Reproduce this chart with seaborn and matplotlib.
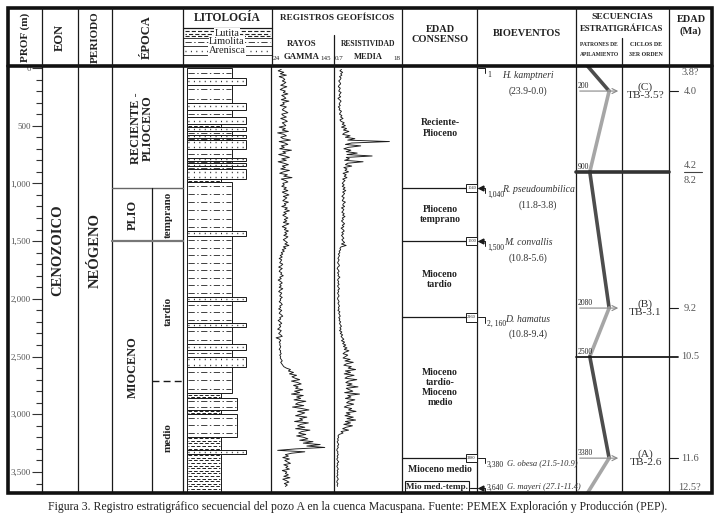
import numpy as np
import pandas as pd
import matplotlib
matplotlib.use("Agg")
import matplotlib.pyplot as plt
import seaborn as sns

# ------------------------------------------------------------------ data
depth_ticks = [0, 500, 1000, 1500, 2000, 2500, 3000, 3500]
depth_tick_labels = ['0', '500', '1,000', '1,500', '2,000', '2,500', '3,000', '3,500']

# lithology beds (m): top, base, lithology code
bed_top = [0, 85, 145, 306, 361, 428, 485, 514, 543, 578, 606, 624, 702, 780, 803, 826, 849, 878, 962, 990,
           1409, 1458, 1981, 2019, 2212, 2246, 2391, 2443, 2501, 2593, 2818, 2862, 2963, 3000, 3194, 3309, 3344]
bed_base = [85, 145, 306, 361, 428, 485, 514, 543, 578, 606, 624, 702, 780, 803, 826, 849, 878, 962, 990, 1409,
            1458, 1981, 2019, 2212, 2246, 2391, 2443, 2501, 2593, 2818, 2862, 2963, 3000, 3194, 3309, 3344, 3682]
bed_lith = ['Li', 'Ar', 'Li', 'Ar', 'Li', 'Ar', 'Lu', 'Ar', 'Li', 'Ar', 'Li', 'Ar', 'Li', 'Ar', 'Li', 'Ar', 'Li', 'Ar', 'Lu', 'Li',
            'Ar', 'Li', 'Ar', 'Li', 'Ar', 'Li', 'Ar', 'Li', 'Ar', 'Li', 'Lu', 'Lm', 'Lu', 'Lm', 'Lu', 'Ar', 'Lu']

# well logs sampled every 12.5 m starting at 12.5 m
log_step = 12.5
gamma_ray = [42, 36, 47, 40, 52, 38, 46, 49, 44, 51, 47, 41, 53, 45, 40, 50, 46, 55, 43, 48,
             51, 42, 57, 45, 48, 40, 52, 47, 44, 50, 55, 43, 46, 52, 41, 49, 54, 44, 48, 51,
             38, 50, 44, 56, 35, 47, 52, 41, 46, 60, 38, 49, 55, 42, 48, 39, 62, 45, 51, 37,
             49, 58, 43, 52, 36, 47, 56, 44, 50, 41, 58, 46, 39, 54, 47, 63, 42, 50, 55, 45,
             48, 43, 52, 47, 55, 44, 50, 57, 46, 53, 49, 45, 56, 48, 51, 43, 54, 49, 58, 47,
             52, 45, 50, 55, 48, 53, 46, 57, 50, 44, 52, 48, 56, 49, 53, 47, 55, 51, 46, 50,
             54, 49, 57, 46, 51, 44, 48, 42, 45, 40, 44, 38, 43, 41, 39, 45, 42, 37, 44, 40,
             38, 43, 41, 46, 39, 42, 36, 41, 44, 39, 42, 38, 45, 40, 37, 43, 41, 39, 44, 40,
             41, 38, 42, 44, 39, 41, 37, 43, 40, 38, 42, 45, 39, 41, 36, 40, 43, 38, 41, 39,
             35, 42, 40, 37, 41, 44, 32, 39, 41, 38, 40, 39, 41, 40, 38, 41, 40, 42, 39, 41,
             40, 42, 44, 41, 43, 45, 47, 52, 60, 56, 66, 58, 72, 63, 69, 78, 62, 74, 81, 66,
             75, 70, 84, 68, 78, 62, 85, 72, 80, 67, 90, 75, 70, 86, 64, 82, 96, 74, 88, 80,
             70, 92, 78, 84, 68, 95, 80, 74, 88, 70, 98, 82, 76, 90, 72, 86, 94, 78, 104, 85,
             118, 92, 127, 70, 35, 88, 62, 50, 56, 45, 58, 49, 54, 60, 47, 55, 51, 58, 44, 53,
             50, 56, 47, 59, 45, 52, 57, 48, 54, 50]
resistivity = [2.6, 2.2, 2.9, 2.4, 2.7, 2.1, 2.5, 2.3, 1.9, 2.2, 2.4, 2.0, 1.8, 2.3, 2.1, 1.9, 2.5, 2.2, 2.0, 2.4,
               1.7, 2.1, 2.5, 2.2, 2.0, 2.3, 1.8, 2.2, 2.0, 2.6, 2.3, 2.1, 2.7, 2.4, 3.0, 2.2, 2.5, 3.3, 2.8, 3.6,
               2.6, 3.9, 3.1, 4.5, 3.4, 2.9, 4.8, 3.6, 6.0, 4.2, 14.8, 5.2, 3.6, 7.5, 4.4, 3.2, 5.0, 3.8, 6.6, 4.0,
               10.4, 3.8, 4.6, 3.4, 8.1, 4.2, 3.6, 5.2, 3.2, 4.0, 3.5, 4.4, 3.0, 3.8, 3.3, 4.0, 2.9, 3.5, 3.1, 2.8,
               3.3, 2.8, 3.5, 3.0, 3.7, 2.9, 3.4, 3.1, 2.7, 3.3, 3.0, 2.8, 3.6, 3.1, 2.9, 3.4, 2.6, 3.2, 3.0, 2.7,
               3.3, 2.9, 3.5, 2.8, 3.1, 2.6, 3.0, 3.4, 2.8, 3.2, 2.5, 3.0, 3.3, 2.7, 3.1, 2.6, 2.9, 3.2, 2.7, 3.0,
               3.4, 2.6, 3.8, 2.5, 2.2, 2.4, 2.0, 2.2, 1.8, 2.1, 1.9, 1.7, 2.0, 1.8, 1.6, 1.9, 2.1, 1.7, 1.5, 1.8,
               2.0, 1.6, 1.9, 1.7, 2.2, 1.8, 1.6, 1.9, 1.7, 2.0, 1.6, 1.8, 2.1, 1.7, 1.9, 1.6, 1.8, 2.0, 1.7, 1.6,
               1.8, 2.0, 1.7, 1.9, 2.1, 1.8, 2.0, 1.7, 2.2, 1.9, 2.1, 2.3, 1.9, 2.2, 2.0, 2.4, 2.1, 2.3, 2.6, 2.2,
               2.5, 2.1, 2.7, 2.3, 2.9, 2.5, 2.8, 3.2, 2.6, 3.4, 2.9, 3.7, 3.1, 4.0, 3.3, 4.5, 3.5, 3.0, 4.2, 3.6,
               3.0, 4.8, 3.5, 5.6, 3.9, 3.2, 5.1, 4.3, 6.2, 3.6, 4.9, 3.3, 5.8, 4.1, 3.5, 6.5, 4.4, 3.7, 5.3, 4.0,
               6.8, 3.8, 4.6, 5.5, 3.4, 7.2, 4.2, 5.0, 3.6, 6.0, 4.5, 3.9, 5.7, 4.1, 3.3, 5.2, 4.4, 6.3, 3.8, 4.8,
               3.5, 5.6, 4.0, 6.2, 3.6, 4.9, 3.2, 5.4, 3.8, 2.9, 4.4, 2.5, 3.0, 2.0, 1.7, 1.9, 1.6, 1.8, 1.5, 1.7,
               1.9, 1.6, 1.8, 1.5, 1.4, 1.7, 1.6, 1.8, 1.5, 1.7, 1.4, 1.6, 1.9, 1.5, 1.7, 1.4, 1.6, 1.8, 1.5, 1.7,
               1.5, 1.7, 1.4, 1.6, 1.8, 1.5, 1.4, 1.7, 1.5, 1.6]

epoch_names = ['RECIENTE -\nPLIOCENO', 'PLIO', 'MIOCENO']
epoch_top = [0, 1040, 1500]
epoch_base = [1040, 1500, 3682]
subepoch_names = ['temprano', 'tardío', 'medio']
subepoch_top = [1040, 1500, 2715]
subepoch_base = [1500, 2715, 3682]

consenso_names = ['Reciente-\nPlioceno', 'Plioceno\ntemprano', 'Mioceno\ntardío',
                  'Mioceno\ntardío-\nMioceno\nmedio', 'Mioceno medio', 'Mio med.-temp.']
consenso_top = [0, 1040, 1500, 2160, 3380, 3584]
consenso_base = [1040, 1500, 2160, 3380, 3584, 3682]

bio_depth = [1, 1040, 1500, 2160, 3380, 3640]
bio_label = ['1', '1,040', '1,500', '2, 160', '3,380', '3,640']
bio_species = ['H. kamptneri', 'R. pseudoumbilica', 'M. convallis', 'D. hamatus', 'G. obesa', 'G. mayeri']
bio_range = ['(23.9-0.0)', '(11.8-3.8)', '(10.8-5.6)', '(10.8-9.4)', '(21.5-10.9)', '(27.1-11.4)']

apil_depth = [-17, 200, 900, 2080, 2500, 3380, 3682]
apil_index = [0.25, 0.72, 0.30, 0.72, 0.30, 0.72, 0.25]
mfs_depth = [200, 2080, 3380]
sb_depth = [900, 2500]
seq_names = ['(C)\nTB-3.5?', '(B)\nTB-3.1', '(A)\nTB-2.6']

age_depth = [43, 200, 849, 979, 2080, 2500, 3380, 3638]
age_label = ['3.8?', '4.0', '4.2', '8.2', '9.2', '10.5', '11.6', '12.5?']

caption = ('Figura 3. Registro estratigráfico secuencial del pozo A en la cuenca Macuspana. '
           'Fuente: PEMEX Exploración y Producción (PEP).')

# ------------------------------------------------------------------ style
sns.set_theme(style='white')
plt.rcParams['font.family'] = ['Liberation Serif', 'DejaVu Serif']
plt.rcParams['lines.scale_dashes'] = False

W, H = 716, 518
Y_TOP, Y_BOT = 66, 493
D_TOP, D_BOT = -17, 3682
M_PER_PX = (D_BOT - D_TOP) / (Y_BOT - Y_TOP)
TXT = '#222222'


def rect(x0, y0, x1, y1):
    return [x0 / W, 1 - y1 / H, (x1 - x0) / W, (y1 - y0) / H]


fig = plt.figure(figsize=(W / 100, H / 100), dpi=100)
fig.patch.set_facecolor('white')

# body axes: x in pixel columns, y in depth
ax = fig.add_axes(rect(42, Y_TOP, 712, Y_BOT))
ax.set_xlim(42, 712)
ax.set_ylim(D_BOT, D_TOP)
ax.set_facecolor('none')
for s in ['top', 'right', 'bottom']:
    ax.spines[s].set_visible(False)
ax.spines['left'].set_linewidth(0.9)
ax.spines['left'].set_color('k')
ax.set_xticks([])
ax.set_yticks(depth_ticks, depth_tick_labels)
ax.set_yticks(np.arange(0, 3700, 100), minor=True)
ax.tick_params(axis='y', which='both', left=True, direction='out', color='#333', width=0.8, pad=1)
ax.tick_params(axis='y', which='major', length=7, labelsize=6.5, labelcolor='#555')
ax.tick_params(axis='y', which='minor', length=4)

# column separators in body
for x in [78, 112, 183, 271, 334, 402, 477, 576, 622, 669]:
    ax.plot([x, x], [D_TOP, D_BOT], color='k', lw=0.9)

# eon / period
ax.text(58, 1580, 'CENOZOICO', rotation=90, ha='center', va='center', fontsize=10.5, fontweight='bold', color=TXT)
ax.text(95, 1585, 'NEÓGENO', rotation=90, ha='center', va='center', fontsize=10.5, fontweight='bold', color=TXT)

# epochs
for name, t, b in zip(epoch_names, epoch_top, epoch_base):
    xc = 142 if t == 0 else 133
    ax.text(xc, (t + b) / 2, name, rotation=90, ha='center', va='center', fontsize=8.8,
            fontweight='bold', color=TXT, linespacing=1.05)
for name, t, b in zip(subepoch_names, subepoch_top, subepoch_base):
    ax.text(168, (t + b) / 2, name, rotation=90, ha='center', va='center', fontsize=8,
            fontweight='bold', color=TXT)
ax.plot([112, 183], [epoch_top[1]] * 2, color='#666', lw=1)
ax.plot([152, 152], [epoch_top[1], D_BOT], color='k', lw=0.9)
ax.plot([112, 183], [epoch_top[2]] * 2, color='#777', lw=1.6)
ax.plot([152, 183], [subepoch_top[2]] * 2, color='k', lw=1, ls=(0, (5, 3)))

# lithology column
lith_width = {'Lu': 34.5, 'Li': 45.5, 'Lm': 50.5, 'Ar': 59.0}
LX = 186.7
tops = np.array(bed_top, float)
bases = np.array(bed_base, float)
widths = np.array([lith_width[c] for c in bed_lith])
ax.barh(y=(tops + bases) / 2, width=widths, height=bases - tops, left=LX,
        color='white', edgecolor='k', linewidth=0.7, zorder=2)
for t, b, c, w in zip(tops, bases, bed_lith, widths):
    th = b - t
    if c in ('Li', 'Lm'):
        sp, ls, lw = 7.5, (0, (4.5, 1.8, 1, 1.8)), 0.6
    elif c == 'Ar':
        sp, ls, lw = 5.5, (0, (0.7, 3.2)), 1.0
    else:
        sp, ls, lw = 2.6, (0, (2.6, 1.4)), 0.7
    n = max(1, int(round(th / (sp * M_PER_PX))))
    ys = t + (np.arange(n) + 0.5) * th / n
    for i, yy in enumerate(ys):
        off = ls if c != 'Lu' or i % 2 == 0 else (2.0, ls[1])
        ax.plot([LX + 1.5, LX + w - 1.5], [yy, yy], color='#222', lw=lw, ls=off, zorder=3)

# well logs
depths = log_step * (1 + np.arange(len(gamma_ray)))
df_log = pd.DataFrame({'depth': depths, 'gr': gamma_ray, 'res': resistivity})
ax_gr = fig.add_axes(rect(272, Y_TOP, 334, Y_BOT))
sns.lineplot(data=df_log, x='gr', y='depth', ax=ax_gr, sort=False, estimator=None, orient='y',
             color='#1a1a1a', lw=0.65)
ax_gr.set_xlim(24, 145)
ax_gr.set_ylim(D_BOT, D_TOP)
ax_gr.axis('off')
ax_rs = fig.add_axes(rect(334, Y_TOP, 402, Y_BOT))
sns.lineplot(data=df_log, x='res', y='depth', ax=ax_rs, sort=False, estimator=None, orient='y',
             color='#1a1a1a', lw=0.65)
ax_rs.set_xlim(0.7, 18)
ax_rs.set_ylim(D_BOT, D_TOP)
ax_rs.axis('off')

# edad consenso
for name, t, b in zip(consenso_names, consenso_top, consenso_base):
    if name.startswith('Mio med'):
        ax.text(437, (t + b) / 2 - 5, name, ha='center', va='center', fontsize=6.6, fontweight='bold',
                color=TXT, bbox=dict(boxstyle='square,pad=0.15', fc='white', ec='k', lw=0.8))
        ax.plot([470, 477], [(t + b) / 2 + 8] * 2, color='k', lw=0.8)
    else:
        ax.text(440, (t + b) / 2, name, ha='center', va='center', fontsize=7, fontweight='bold',
                color=TXT, linespacing=1.15)
for t in consenso_top[1:5]:
    ax.plot([402, 477], [t, t], color='k', lw=0.9)
    ax.add_patch(plt.Rectangle((466, t - 37), 11, 74, fc='white', ec='k', lw=0.7, zorder=4))
    ax.text(471.5, t, f'{t}', ha='center', va='center', fontsize=3.2, color=TXT, zorder=5)

# bioeventos
for i, (d, lab, sp, rg) in enumerate(zip(bio_depth, bio_label, bio_species, bio_range)):
    last = i == len(bio_depth) - 1
    ax.plot([478, 485, 485], [d, d, d + 45], color='k', lw=0.7, zorder=6)
    if i in (1, 2, 5):
        ax.plot([480.5], [d], marker='<', ms=3.5, color='k', zorder=6)
    dl = d if last else d + 60
    ax.text(487, dl, lab, ha='left', va='center', fontsize=5.5, color=TXT)
    if i in (4, 5):
        ax.text(507, d + 45 if i == 4 else d - 10, f'{sp} {rg}', ha='left', va='center', fontsize=6.1,
                style='italic', color='#333')
    else:
        xs = 538 if i == 1 else 528
        ax.text(xs, d + 60 if i == 0 else d + 15, sp, ha='center', va='center', fontsize=7, style='italic',
                color='#333')
        ax.text(xs, d + 200 if i == 0 else d + 150, rg, ha='center', va='center', fontsize=7, color='#333')

# stacking patterns
apx = 576 + np.array(apil_index) * 46
for k in range(len(apil_depth) - 1):
    col = '#4d4d4d' if k % 2 == 0 else '#a6a6a6'
    ax.plot(apx[k:k + 2], apil_depth[k:k + 2], color=col, lw=2.6, solid_capstyle='round', zorder=3)
for d in mfs_depth:
    ax.annotate('', xy=(621, d), xytext=(577, d),
                arrowprops=dict(arrowstyle='->', color='#888', lw=0.8, mutation_scale=9), zorder=4)
    ax.text(578, d - 8, f'{d}', ha='left', va='bottom', fontsize=5.5, color=TXT)
    ax.plot([669, 678], [d, d], color='k', lw=0.8)
ax.plot([576, 669], [sb_depth[0]] * 2, color='#333', lw=2.6, zorder=4)
ax.plot([684, 702], [sb_depth[0]] * 2, color='#444', lw=0.8)
ax.plot([576, 678], [sb_depth[1]] * 2, color='k', lw=1.3, zorder=4)
for d in sb_depth:
    ax.text(578, d - 8, f'{d}', ha='left', va='bottom', fontsize=5.5, color=TXT, zorder=5)
for name, d in zip(seq_names, mfs_depth):
    ax.text(645.5, d, name, ha='center', va='center', fontsize=8.2, color='#333', linespacing=0.95)

# edad (Ma)
for d, lab in zip(age_depth, age_label):
    ax.text(690, d, lab, ha='center', va='center', fontsize=7.5, color='#555')

# ------------------------------------------------------------------ frame & header
af = fig.add_axes([0, 0, 1, 1], zorder=10)
af.set_xlim(0, W)
af.set_ylim(H, 0)
af.axis('off')
af.patch.set_visible(False)

af.add_patch(plt.Rectangle((8, 8), 704, 485, fill=False, ec='#111', lw=2.6))
af.plot([8, 712], [66, 66], color='#111', lw=2.6)
for x in [42, 78, 112, 183, 272, 402, 477, 576, 669]:
    af.plot([x, x], [8, 66], color='k', lw=0.9)
af.plot([334, 334], [35, 66], color='k', lw=0.9)
af.plot([622, 622], [38, 66], color='k', lw=0.9)
af.plot([183, 272], [28, 28], color='k', lw=0.9)

hb = dict(ha='center', va='center', fontweight='bold', color=TXT)
af.text(25, 37, 'PROF (m)', rotation=90, fontsize=8, **hb)
af.text(60, 37, 'EON', rotation=90, fontsize=9, **hb)
af.text(95, 37, 'PERIODO', rotation=90, fontsize=8, **hb)
af.text(147, 37, 'ÉPOCA', rotation=90, fontsize=9, **hb)
af.text(227, 18, 'LITOLOGÍA', fontsize=8.3, **hb)
af.text(337, 18, 'REGISTROS GEOFÍSICOS', fontsize=6.7, **hb)
af.text(302, 44, 'RAYOS', fontsize=6.3, **hb)
af.text(302, 57, 'GAMMA', fontsize=6.3, **hb)
af.text(368, 44, 'RESISTIVIDAD', fontsize=5.5, **hb)
af.text(368, 57, 'MEDIA', fontsize=6.0, **hb)
af.text(276, 58, '24', fontsize=5.3, ha='center', va='center', color=TXT)
af.text(326, 58.5, '145', fontsize=5.0, ha='center', va='center', color=TXT)
af.text(339, 58, '0.7', fontsize=5.0, ha='center', va='center', color=TXT)
af.text(397, 58.5, '18', fontsize=5.0, ha='center', va='center', color=TXT)
af.text(440, 29, 'EDAD', fontsize=7.5, **hb)
af.text(440, 40, 'CONSENSO', fontsize=7.5, **hb)
af.text(527, 34, 'BIOEVENTOS', fontsize=7.5, **hb)
af.text(622, 17, 'SECUENCIAS', fontsize=6.8, **hb)
af.text(622, 29, 'ESTRATIGRÁFICAS', fontsize=6.3, **hb)
af.text(599, 45, 'PATRONES DE', fontsize=4.0, **hb)
af.text(599, 54, 'APILAMIENTO', fontsize=4.0, **hb)
af.text(646, 45, 'CICLOS DE', fontsize=4.2, **hb)
af.text(646, 54, '3ER ORDEN', fontsize=4.2, **hb)
af.text(691, 19, 'EDAD', fontsize=7.5, **hb)
af.text(691, 31, '(Ma)', fontsize=7.5, **hb)

# lithology legend in header
for yy, off in [(31, 0), (33.5, 2), (36, 0)]:
    af.plot([185, 270], [yy, yy], color='#222', lw=0.8, ls=(off, (3, 1.5)))
af.plot([183, 272], [38, 38], color='k', lw=0.6)
af.plot([185, 270], [42, 42], color='#222', lw=0.6, ls=(0, (4.5, 1.8, 1, 1.8)))
af.plot([183, 272], [46, 46], color='k', lw=0.6)
af.plot([185, 270], [50.5, 50.5], color='#222', lw=1.0, ls=(0, (0.7, 3.2)))
af.plot([183, 272], [55, 55], color='k', lw=0.6)
lb = dict(ha='center', va='center', fontsize=7.5, color=TXT,
          bbox=dict(boxstyle='square,pad=0.05', fc='white', ec='none'))
af.text(227, 33, 'Lutita', **lb)
af.text(227, 41.5, 'Limolita', **lb)
af.text(227, 50.5, 'Arenisca', **lb)

# caption
af.text(358, 507, caption, ha='center', va='center', fontsize=8.5, color=TXT)

fig.savefig('out.png', dpi=100, facecolor='white')
